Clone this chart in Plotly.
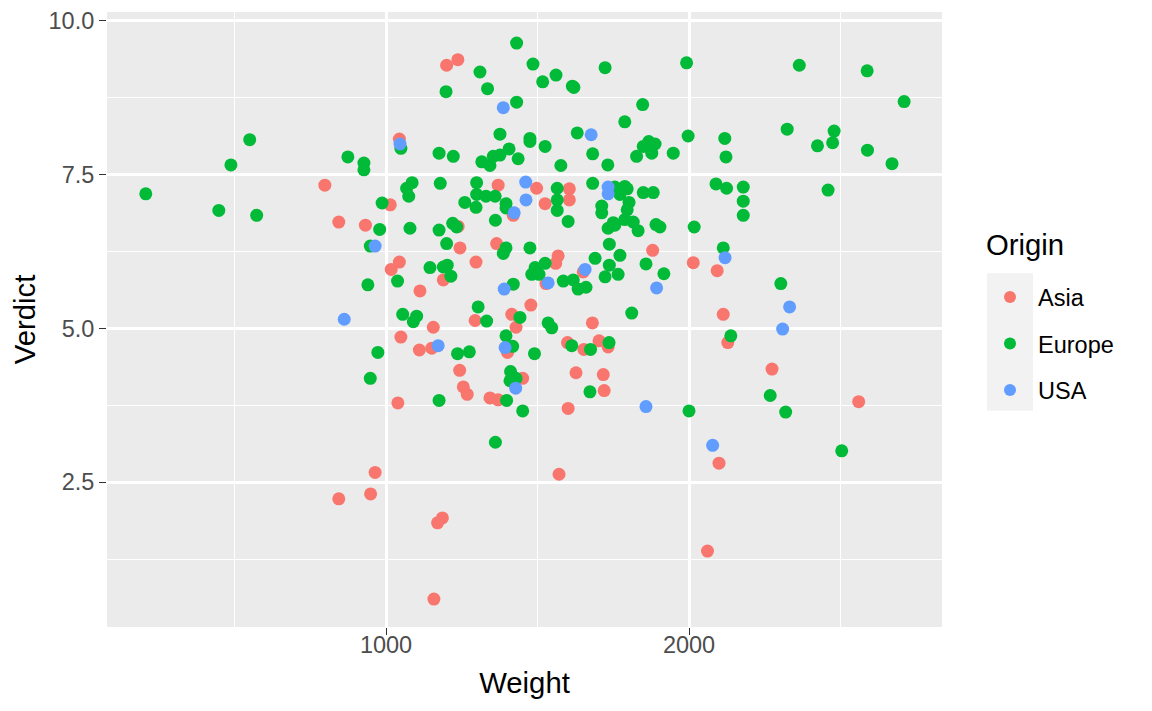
import plotly.graph_objects as go

# --- data (Weight, Verdict) per origin ---
asia_weight = [798, 844, 932, 1014, 1017, 1044, 1200, 1237, 1370, 1497, 1525, 1605, 1605,
               1420, 1238, 1244, 1365, 1044, 1112, 1189, 1297, 1560, 1568, 1528, 1156, 1294,
               1415, 1478, 1429, 1880, 2014, 2093, 1651, 1681, 2113, 1049, 1110, 1151, 1401,
               1243, 1255, 1268, 1451, 1343, 1370, 1039, 1599, 1653, 1703, 1733, 1627, 1717,
               1720, 1601, 964, 949, 844, 2128, 2274, 2560, 2099, 2061, 1571, 1170, 1186, 1158]
asia_verdict = [7.33, 6.73, 6.68, 7.01, 5.96, 8.08, 9.28, 9.37, 7.33, 7.28, 7.03, 7.27, 7.09,
                6.84, 6.66, 6.31, 6.38, 6.08, 5.61, 5.79, 6.08, 6.06, 6.18, 5.73, 5.02, 5.13,
                5.23, 5.38, 5.02, 6.27, 6.07, 5.94, 5.92, 5.09, 5.23, 4.86, 4.65, 4.68, 4.61,
                4.32, 4.05, 3.93, 4.19, 3.87, 3.84, 3.79, 4.77, 4.66, 4.80, 4.70, 4.28, 4.25,
                3.99, 3.70, 2.66, 2.31, 2.23, 4.77, 4.34, 3.81, 2.81, 1.38, 2.63, 1.84, 1.92, 0.60]

europe_weight = [550, 488, 207, 448, 573, 874, 927, 927, 979, 987, 948, 940, 1049,
                 1431, 1310, 1485, 1517, 1335, 1198, 1431, 1376, 1475, 1475, 1525, 1175, 1222,
                 1316, 1343, 1354, 1376, 1406, 1436, 1086, 1068, 1075, 1179, 1299, 1260, 1299,
                 1330, 1360, 1297, 1396, 1396,
                 1992, 1723, 1561, 1615, 1620, 1847, 1788, 1631, 1997, 2118, 2122, 1682, 1577,
                 1732, 1849, 1867, 1888, 1877, 1827, 1948, 2089, 2124, 1565, 1565, 1682, 1755,
                 1772, 1788, 1796, 1802, 1849, 1882, 1712, 1796, 1565,
                 2364, 2588, 2710, 2324, 2479, 2474, 2424, 2589, 2670, 2179, 2179, 2179, 2459, 2303,
                 1079, 1175, 1220, 1233, 1200, 1361, 1396, 1387, 1475, 1038, 1145, 1189, 1202,
                 1214, 1420, 1492, 1481, 1505, 1525, 1055, 1101, 1090, 1304, 1332, 1442, 1535, 1547,
                 1712, 1601, 1733, 1750, 1755, 1788, 1816, 1832, 1891, 1904, 2017, 1737, 1772,
                 1690, 1737, 1858, 2113, 1723, 1766, 1917, 1585, 1618, 1634, 1660, 1811,
                 1236, 1275, 1396, 1418, 1490, 1411, 1429, 1409, 1398, 1175, 1451, 1361,
                 1613, 1675, 1736, 1673, 2000, 973, 948, 2138, 2268, 2319, 2504]
europe_verdict = [8.07, 7.66, 7.19, 6.92, 6.84, 7.79, 7.69, 7.58, 6.61, 7.04, 6.34, 5.71, 7.93,
                  9.64, 9.17, 9.30, 9.01, 8.90, 8.85, 8.68, 8.16, 8.09, 8.04, 7.96, 7.85, 7.80,
                  7.71, 7.65, 7.80, 7.82, 7.92, 7.76, 7.37, 7.28, 7.15, 7.36, 7.37, 7.05, 7.18,
                  7.15, 7.15, 6.97, 7.03, 6.96,
                  9.32, 9.24, 9.12, 8.94, 8.92, 8.64, 8.36, 8.18, 8.13, 8.09, 7.79, 7.84, 7.65,
                  7.66, 7.96, 8.04, 8.00, 7.85, 7.80, 7.85, 7.35, 7.28, 7.28, 7.09, 7.36, 7.30,
                  7.18, 7.31, 7.27, 7.05, 7.21, 7.21, 6.99, 6.93, 6.92,
                  9.28, 9.19, 8.69, 8.24, 8.21, 8.02, 7.97, 7.90, 7.68, 7.30, 7.07, 6.84, 7.25, 5.73,
                  6.63, 6.60, 6.71, 6.65, 6.38, 6.76, 6.31, 6.22, 6.31, 5.77, 5.99, 6.00, 6.03,
                  5.85, 5.72, 5.99, 5.88, 5.88, 6.06, 5.23, 5.20, 5.11, 5.35, 5.12, 5.18, 5.09, 5.01,
                  6.88, 6.74, 6.63, 6.72, 6.68, 6.77, 6.73, 6.59, 6.69, 6.65, 6.65, 6.37, 6.19,
                  6.14, 6.03, 6.05, 6.31, 5.84, 5.88, 5.89, 5.77, 5.79, 5.64, 5.67, 5.25,
                  4.59, 4.62, 4.88, 4.71, 4.59, 4.30, 4.19, 4.15, 3.83, 3.83, 3.66, 3.15,
                  4.72, 4.66, 4.77, 3.97, 3.66, 4.61, 4.19, 4.88, 3.91, 3.64, 3.01]

usa_weight = [964, 862, 1046, 1387, 1461, 1462, 1423, 1677, 1733, 1733, 1390, 1535, 1657,
              1893, 2119, 2332, 2309, 1172, 1393, 1428, 1858, 2078]
usa_verdict = [6.34, 5.15, 8.00, 8.59, 7.38, 7.09, 6.88, 8.15, 7.30, 7.19, 5.64, 5.74, 5.96,
               5.66, 6.15, 5.35, 4.99, 4.72, 4.69, 4.03, 3.73, 3.10]

x_ticks = [1000, 2000]
y_ticks = [2.5, 5.0, 7.5, 10.0]
y_ticklabels = ["2.5", "5.0", "7.5", "10.0"]

series = [
    ("Asia", asia_weight, asia_verdict, "#F8766D"),
    ("Europe", europe_weight, europe_verdict, "#00BA38"),
    ("USA", usa_weight, usa_verdict, "#619CFF"),
]

FONT = "Liberation Sans, Arial, sans-serif"

fig = go.Figure()
for name, xs, ys, col in series:
    fig.add_trace(go.Scatter(
        x=xs, y=ys, mode="markers", name=name, legendgroup=name,
        marker=dict(color=col, size=13, line=dict(width=0)),
    ))

axis_common = dict(
    showgrid=True, gridcolor="white", gridwidth=2.6,
    zeroline=False, showline=False, automargin=False,
    ticks="outside", ticklen=7, tickwidth=1.4, tickcolor="#333333",
    ticklabeloverflow="allow",
    tickfont=dict(family=FONT, size=23.5, color="#4D4D4D"),
    title_font=dict(family=FONT, size=29.3, color="black"),
)

fig.update_xaxes(
    range=[79, 2835], tickvals=x_ticks, ticktext=[str(v) for v in x_ticks],
    title_text="Weight", title_standoff=15, ticklabelstandoff=-10,
    minor=dict(tickvals=[500, 1500, 2500], gridcolor="white", gridwidth=1.3, ticks=""),
    **axis_common,
)
fig.update_yaxes(
    range=[0.146, 10.146], tickvals=y_ticks, ticktext=y_ticklabels,
    title_text="Verdict", title_standoff=8,
    minor=dict(tickvals=[1.25, 3.75, 6.25, 8.75], gridcolor="white", gridwidth=1.3, ticks=""),
    **axis_common,
)

# grey key background behind legend symbols (ggplot style)
fig.add_shape(type="rect", xref="paper", yref="paper",
              x0=1.0539, x1=1.1090, y0=0.3517, y1=0.5754,
              fillcolor="#F2F2F2", line=dict(width=0), layer="below")

fig.add_annotation(text="Origin", xref="paper", yref="paper",
                   x=1.0500, y=0.622, xanchor="left", yanchor="middle",
                   showarrow=False, font=dict(family=FONT, size=29.3, color="black"))

# page body adds 8px offset, margins compensate so the panel sits at ~107..942 / 12..627
fig.update_layout(
    width=1152, height=711,
    margin=dict(l=99, r=218, t=4, b=92),
    paper_bgcolor="white", plot_bgcolor="#EBEBEB",
    font=dict(family=FONT),
    legend=dict(
        font=dict(family=FONT, size=23.5, color="black"),
        x=1.0479, xanchor="left", y=0.572, yanchor="top",
        bgcolor="rgba(0,0,0,0)", tracegroupgap=13, itemsizing="constant",
        itemwidth=46,
    ),
)

fig.write_html("out.html")
